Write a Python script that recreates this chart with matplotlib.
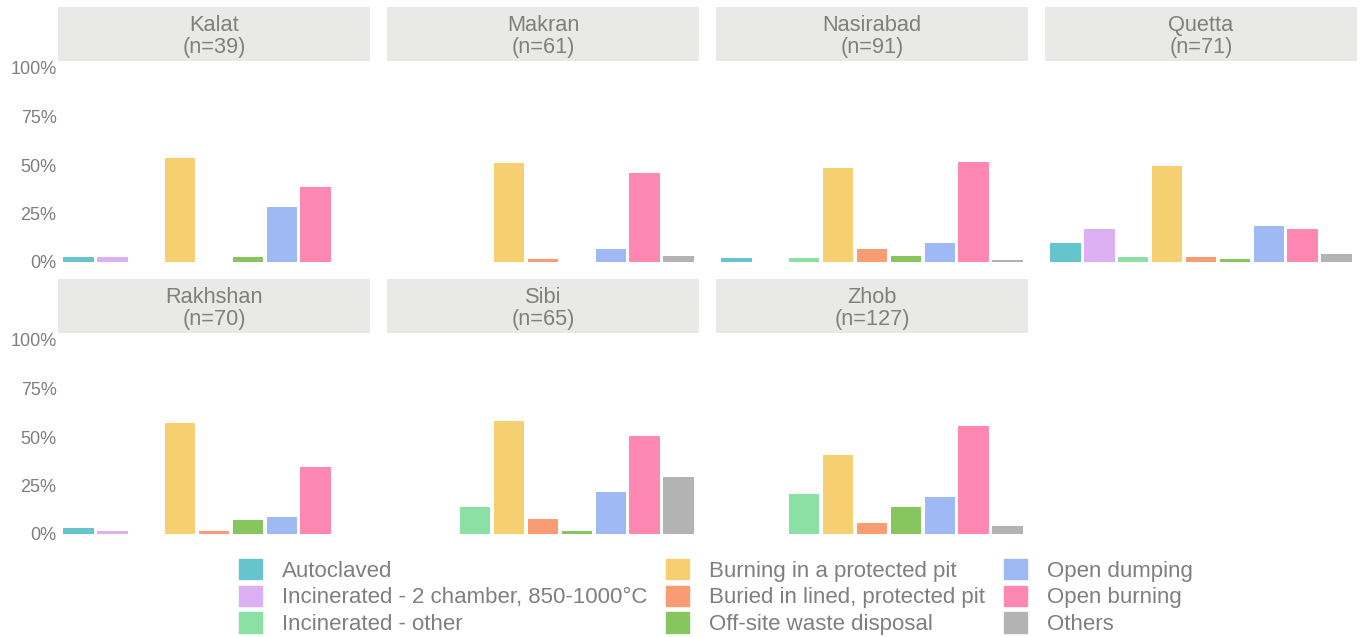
import matplotlib
matplotlib.use("Agg")
import matplotlib.pyplot as plt
import matplotlib.patches as mpatches

plt.rcParams["font.family"] = ["Liberation Sans", "DejaVu Sans"]

# Waste disposal methods (x categories, legend order) and their colours.
methods = [
    "Autoclaved",
    "Incinerated - 2 chamber, 850-1000°C",
    "Incinerated - other",
    "Burning in a protected pit",
    "Buried in lined, protected pit",
    "Off-site waste disposal",
    "Open dumping",
    "Open burning",
    "Others",
]
method_colors = [
    "#66C5CC", "#DCB0F2", "#8BE0A4", "#F6CF71", "#F89C74",
    "#87C55F", "#9EB9F3", "#FE88B1", "#B3B3B3",
]

districts = ["Kalat", "Makran", "Nasirabad", "Quetta", "Rakhshan", "Sibi", "Zhob"]
sample_n = [39, 61, 91, 71, 70, 65, 127]

# Facilities per method, same order as methods.
kalat = [1, 1, 0, 21, 0, 1, 11, 15, 0]
makran = [0, 0, 0, 31, 1, 0, 4, 28, 2]
nasirabad = [2, 0, 2, 44, 6, 3, 9, 47, 1]
quetta = [7, 12, 2, 35, 2, 1, 13, 12, 3]
rakhshan = [2, 1, 0, 40, 1, 5, 6, 24, 0]
sibi = [0, 0, 9, 38, 5, 1, 14, 33, 19]
zhob = [0, 0, 26, 52, 7, 18, 24, 71, 5]
district_counts = [kalat, makran, nasirabad, quetta, rakhshan, sibi, zhob]

y_ticks = [0, 0.25, 0.5, 0.75, 1.0]
y_tick_labels = ["0%", "25%", "50%", "75%", "100%"]

TEXT = "#7F7F7F"
STRIP_BG = "#E9E9E7"

W, H = 1362, 637
fig = plt.figure(figsize=(W / 100, H / 100), dpi=100)

col_left = [58, 387, 716, 1045]
panel_w = 312
row_top = [7, 279]
strip_h = 54
panel_h = 211

x_pos = list(range(1, len(methods) + 1))

for i, (name, n, counts) in enumerate(zip(districts, sample_n, district_counts)):
    r, c = divmod(i, 4)
    x0 = col_left[c]
    top = row_top[r]
    ax = fig.add_axes([x0 / W, 1 - (top + strip_h + panel_h) / H, panel_w / W, panel_h / H])
    st = fig.add_axes([x0 / W, 1 - (top + strip_h) / H, panel_w / W, strip_h / H])

    shares = [k / n for k in counts]
    for x, s, col in zip(x_pos, shares, method_colors):
        if s > 0:
            ax.bar(x, s, width=0.9, color=col, linewidth=0)

    ax.set_xlim(0.4, len(methods) + 0.6)
    ax.set_ylim(-10 / 194, 1 + 7 / 194)
    ax.set_xticks([])
    ax.set_yticks(y_ticks)
    if c == 0:
        ax.set_yticklabels(y_tick_labels, fontsize=13, color=TEXT)
    else:
        ax.set_yticklabels([])
    ax.tick_params(axis="y", length=0, pad=1)
    for sp in ax.spines.values():
        sp.set_visible(False)

    st.set_facecolor(STRIP_BG)
    st.set_xticks([])
    st.set_yticks([])
    for sp in st.spines.values():
        sp.set_visible(False)
    st.text(0.5, 0.45, f"{name}\n(n={n})", ha="center", va="center",
            fontsize=15.7, color=TEXT, linespacing=1.1, transform=st.transAxes)

handles = [mpatches.Patch(color=col, label=m) for m, col in zip(methods, method_colors)]
fig.legend(
    handles=handles, loc="upper left", bbox_to_anchor=(239 / W, 1 - 559 / H),
    ncol=3, frameon=False, fontsize=16, labelcolor=TEXT,
    handlelength=1.04, handleheight=1.04, handletextpad=0.9,
    columnspacing=0.85, labelspacing=0.17, borderpad=0, borderaxespad=0,
)

fig.savefig("out.png", dpi=100)
